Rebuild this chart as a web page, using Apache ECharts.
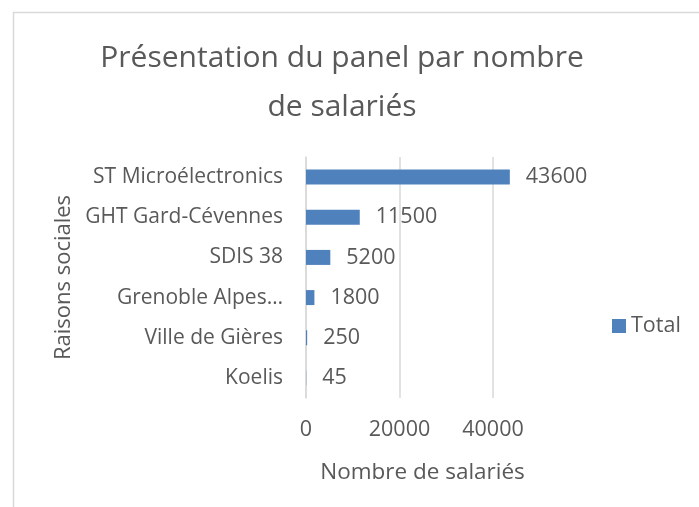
<!DOCTYPE html>
<html>
<head>
<meta charset="utf-8">
<script src="https://cdn.jsdelivr.net/npm/echarts@6/dist/echarts.min.js"></script>
<style>
  html, body { margin: 0; padding: 0; background: #fff; }
  #chart { width: 699px; height: 507px; }
</style>
</head>
<body>
<div id="chart"></div>
<script>
// données
var categories = ['ST Microélectronics', 'GHT Gard-Cévennes', 'SDIS 38', 'Grenoble Alpes…', 'Ville de Gières', 'Koelis'];
var salaries = [43600, 11500, 5200, 1800, 250, 45];
var seriesName = 'Total';

var txt = '#595959';
var font = 'Open Sans';

var chart = echarts.init(document.getElementById('chart'));
chart.setOption({
    animation: false,
    textStyle: { fontFamily: font },
    graphic: [{
        type: 'rect',
        shape: { x: 13.5, y: 12.5, width: 800, height: 600 },
        style: { fill: 'none', stroke: '#D9D9D9', lineWidth: 1.5 },
        silent: true
    }],
    title: {
        text: 'Présentation du panel par nombre\nde salariés',
        left: 337,
        textAlign: 'center',
        top: 29,
        textStyle: {
            fontFamily: font,
            fontSize: 30,
            fontWeight: 'normal',
            color: txt,
            lineHeight: 49
        }
    },
    legend: {
        data: [seriesName],
        left: 612,
        top: 315,
        padding: 0,
        icon: 'rect',
        itemWidth: 14,
        itemHeight: 14,
        itemGap: 5,
        textStyle: { fontFamily: font, fontSize: 21.5, color: txt }
    },
    grid: { left: 306, right: 206, top: 157, bottom: 109 },
    xAxis: {
        type: 'value',
        min: 0,
        max: 40000,
        interval: 20000,
        name: 'Nombre de salariés',
        nameLocation: 'middle',
        nameGap: 63,
        nameMoveOverlap: false,
        nameTextStyle: { fontFamily: font, fontSize: 22.5, color: txt, padding: [0, 0, 0, 46] },
        axisLine: { show: false },
        axisTick: { show: false },
        axisLabel: {
            fontFamily: font, fontSize: 21.5, color: txt, margin: 21,
            formatter: function (v) { return String(v); }
        },
        splitLine: { lineStyle: { color: '#D9D9D9', width: 1.5 } }
    },
    yAxis: {
        type: 'category',
        inverse: true,
        data: categories,
        name: 'Raisons sociales',
        nameLocation: 'middle',
        nameGap: 231,
        nameMoveOverlap: false,
        nameTextStyle: { fontFamily: font, fontSize: 22, color: txt },
        axisLine: { lineStyle: { color: '#D9D9D9', width: 1.5 } },
        axisTick: { show: false },
        axisLabel: { fontFamily: font, fontSize: 21, color: txt, margin: 23 }
    },
    series: [{
        name: seriesName,
        type: 'bar',
        data: salaries,
        barWidth: 15,
        clip: false,
        itemStyle: { color: '#4F81BD' },
        label: {
            show: true,
            position: 'right',
            distance: 16,
            fontFamily: font,
            fontSize: 21.5,
            color: txt
        }
    }]
});
</script>
</body>
</html>
